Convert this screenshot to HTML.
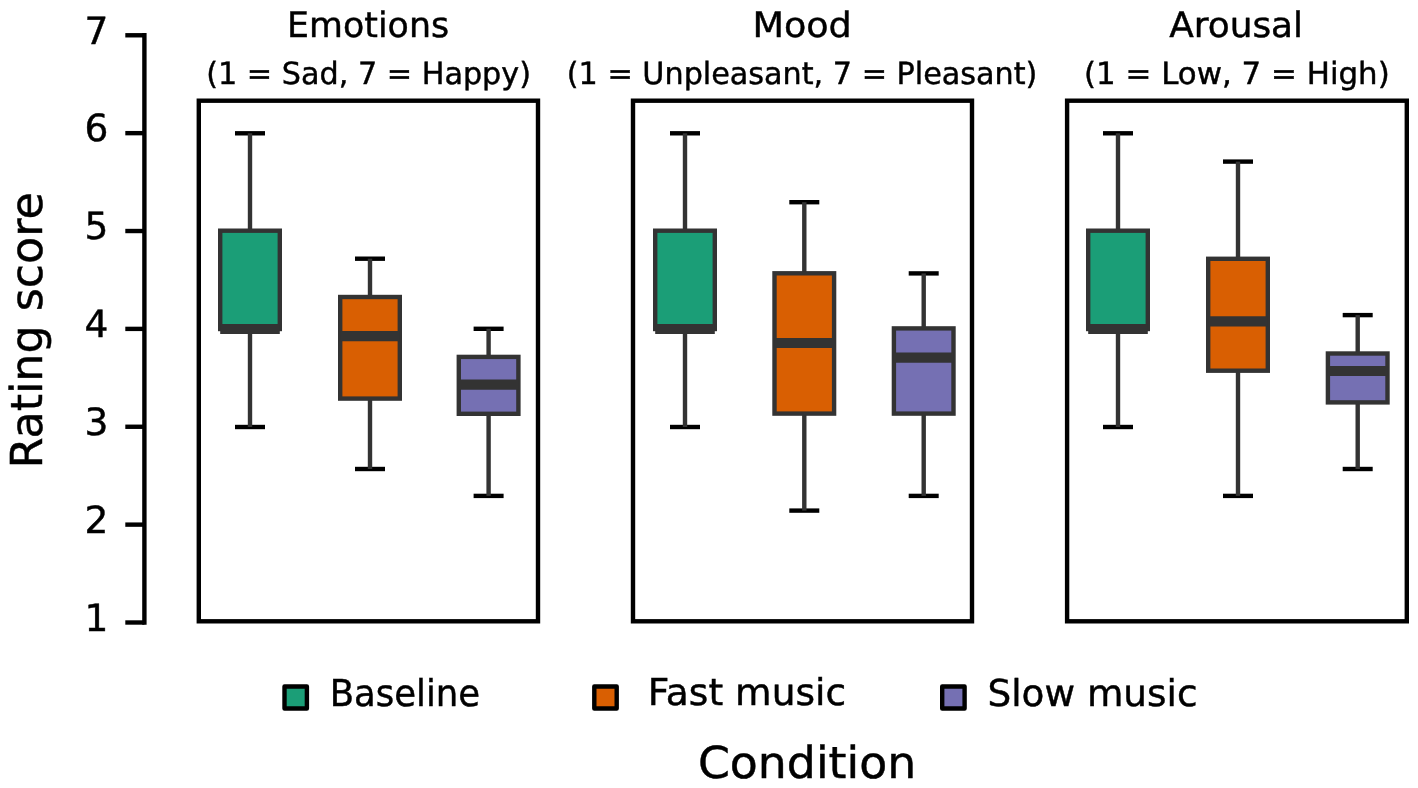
<!DOCTYPE html>
<html lang="en">
<head>
<meta charset="utf-8">
<title>Rating score by condition</title>
<style>
html,body{margin:0;padding:0;background:#fff;}
body{width:1418px;height:788px;overflow:hidden;}
svg{display:block;will-change:transform;}
text{font-family:"DejaVu Sans", "Liberation Sans", sans-serif;fill:#000;stroke:#000;stroke-width:0.45px;text-rendering:geometricPrecision;}
</style>
</head>
<body>
<svg width="1418" height="788" viewBox="0 0 1418 788">
<rect x="0" y="0" width="1418" height="788" fill="#ffffff"/>
<g stroke="#000" stroke-width="4.4" fill="none">
<line x1="144.4" y1="33.08" x2="144.4" y2="624.70"/>
<line x1="125.3" y1="622.50" x2="144.4" y2="622.50"/>
<line x1="125.3" y1="524.63" x2="144.4" y2="524.63"/>
<line x1="125.3" y1="426.76" x2="144.4" y2="426.76"/>
<line x1="125.3" y1="328.89" x2="144.4" y2="328.89"/>
<line x1="125.3" y1="231.02" x2="144.4" y2="231.02"/>
<line x1="125.3" y1="133.15" x2="144.4" y2="133.15"/>
<line x1="125.3" y1="35.28" x2="144.4" y2="35.28"/>
</g>
<text x="108.3" y="630.8" font-size="37.5" text-anchor="end">1</text>
<text x="108.3" y="532.9" font-size="37.5" text-anchor="end">2</text>
<text x="108.3" y="435.1" font-size="37.5" text-anchor="end">3</text>
<text x="108.3" y="337.2" font-size="37.5" text-anchor="end">4</text>
<text x="108.3" y="239.3" font-size="37.5" text-anchor="end">5</text>
<text x="108.3" y="141.4" font-size="37.5" text-anchor="end">6</text>
<text x="108.3" y="43.6" font-size="37.5" text-anchor="end">7</text>
<text transform="translate(42.3 468.3) rotate(-90)" font-size="44" textLength="276" lengthAdjust="spacingAndGlyphs">Rating score</text>
<rect x="198.8" y="100.7" width="339.2" height="520.6" fill="none" stroke="#000" stroke-width="4.4"/>
<text x="287.1" y="37.3" font-size="35" text-anchor="start" textLength="162.0" lengthAdjust="spacingAndGlyphs">Emotions</text>
<text x="206.2" y="83.5" font-size="30.5" text-anchor="start" textLength="324.8" lengthAdjust="spacingAndGlyphs">(1 = Sad, 7 = Happy)</text>
<g stroke="#000" stroke-width="4.4"><line x1="235.00" y1="133.3" x2="265.00" y2="133.3"/><line x1="235.00" y1="427.0" x2="265.00" y2="427.0"/></g>
<g stroke="#333333" stroke-width="4.4"><line x1="250.0" y1="133.3" x2="250.0" y2="230.7"/><line x1="250.0" y1="329.0" x2="250.0" y2="427.0"/></g>
<rect x="220.20" y="230.7" width="59.6" height="98.30" fill="#1b9e77" stroke="#333333" stroke-width="4.4"/>
<line x1="220.20" y1="329.0" x2="279.80" y2="329.0" stroke="#333333" stroke-width="10.2"/>
<g stroke="#000" stroke-width="4.4"><line x1="355.00" y1="258.7" x2="385.00" y2="258.7"/><line x1="355.00" y1="469.0" x2="385.00" y2="469.0"/></g>
<g stroke="#333333" stroke-width="4.4"><line x1="370.0" y1="258.7" x2="370.0" y2="297.0"/><line x1="370.0" y1="398.6" x2="370.0" y2="469.0"/></g>
<rect x="340.20" y="297.0" width="59.6" height="101.60" fill="#d95f02" stroke="#333333" stroke-width="4.4"/>
<line x1="340.20" y1="336.1" x2="399.80" y2="336.1" stroke="#333333" stroke-width="10.2"/>
<g stroke="#000" stroke-width="4.4"><line x1="473.60" y1="328.8" x2="503.60" y2="328.8"/><line x1="473.60" y1="495.9" x2="503.60" y2="495.9"/></g>
<g stroke="#333333" stroke-width="4.4"><line x1="488.6" y1="328.8" x2="488.6" y2="356.9"/><line x1="488.6" y1="413.8" x2="488.6" y2="495.9"/></g>
<rect x="458.80" y="356.9" width="59.6" height="56.90" fill="#7570b3" stroke="#333333" stroke-width="4.4"/>
<line x1="458.80" y1="384.7" x2="518.40" y2="384.7" stroke="#333333" stroke-width="10.2"/>
<rect x="633.0" y="100.7" width="339.0" height="520.6" fill="none" stroke="#000" stroke-width="4.4"/>
<text x="752.4" y="37.3" font-size="35" text-anchor="start" textLength="99.4" lengthAdjust="spacingAndGlyphs">Mood</text>
<text x="566.8" y="83.5" font-size="30.5" text-anchor="start" textLength="470.6" lengthAdjust="spacingAndGlyphs">(1 = Unpleasant, 7 = Pleasant)</text>
<g stroke="#000" stroke-width="4.4"><line x1="670.00" y1="133.3" x2="700.00" y2="133.3"/><line x1="670.00" y1="427.0" x2="700.00" y2="427.0"/></g>
<g stroke="#333333" stroke-width="4.4"><line x1="685.0" y1="133.3" x2="685.0" y2="230.7"/><line x1="685.0" y1="329.0" x2="685.0" y2="427.0"/></g>
<rect x="655.20" y="230.7" width="59.6" height="98.30" fill="#1b9e77" stroke="#333333" stroke-width="4.4"/>
<line x1="655.20" y1="329.0" x2="714.80" y2="329.0" stroke="#333333" stroke-width="10.2"/>
<g stroke="#000" stroke-width="4.4"><line x1="789.30" y1="202.2" x2="819.30" y2="202.2"/><line x1="789.30" y1="510.6" x2="819.30" y2="510.6"/></g>
<g stroke="#333333" stroke-width="4.4"><line x1="804.3" y1="202.2" x2="804.3" y2="273.3"/><line x1="804.3" y1="413.6" x2="804.3" y2="510.6"/></g>
<rect x="774.50" y="273.3" width="59.6" height="140.30" fill="#d95f02" stroke="#333333" stroke-width="4.4"/>
<line x1="774.50" y1="343.0" x2="834.10" y2="343.0" stroke="#333333" stroke-width="10.2"/>
<g stroke="#000" stroke-width="4.4"><line x1="908.70" y1="273.4" x2="938.70" y2="273.4"/><line x1="908.70" y1="495.9" x2="938.70" y2="495.9"/></g>
<g stroke="#333333" stroke-width="4.4"><line x1="923.7" y1="273.4" x2="923.7" y2="328.4"/><line x1="923.7" y1="413.6" x2="923.7" y2="495.9"/></g>
<rect x="893.90" y="328.4" width="59.6" height="85.20" fill="#7570b3" stroke="#333333" stroke-width="4.4"/>
<line x1="893.90" y1="357.7" x2="953.50" y2="357.7" stroke="#333333" stroke-width="10.2"/>
<rect x="1067.1" y="100.7" width="339.7" height="520.6" fill="none" stroke="#000" stroke-width="4.4"/>
<text x="1169.2" y="37.3" font-size="35" text-anchor="start" textLength="133.9" lengthAdjust="spacingAndGlyphs">Arousal</text>
<text x="1084.0" y="83.5" font-size="30.5" text-anchor="start" textLength="305.7" lengthAdjust="spacingAndGlyphs">(1 = Low, 7 = High)</text>
<g stroke="#000" stroke-width="4.4"><line x1="1103.00" y1="133.3" x2="1133.00" y2="133.3"/><line x1="1103.00" y1="427.0" x2="1133.00" y2="427.0"/></g>
<g stroke="#333333" stroke-width="4.4"><line x1="1118.0" y1="133.3" x2="1118.0" y2="230.7"/><line x1="1118.0" y1="329.0" x2="1118.0" y2="427.0"/></g>
<rect x="1088.20" y="230.7" width="59.6" height="98.30" fill="#1b9e77" stroke="#333333" stroke-width="4.4"/>
<line x1="1088.20" y1="329.0" x2="1147.80" y2="329.0" stroke="#333333" stroke-width="10.2"/>
<g stroke="#000" stroke-width="4.4"><line x1="1223.00" y1="161.6" x2="1253.00" y2="161.6"/><line x1="1223.00" y1="495.9" x2="1253.00" y2="495.9"/></g>
<g stroke="#333333" stroke-width="4.4"><line x1="1238.0" y1="161.6" x2="1238.0" y2="258.8"/><line x1="1238.0" y1="370.7" x2="1238.0" y2="495.9"/></g>
<rect x="1208.20" y="258.8" width="59.6" height="111.90" fill="#d95f02" stroke="#333333" stroke-width="4.4"/>
<line x1="1208.20" y1="321.3" x2="1267.80" y2="321.3" stroke="#333333" stroke-width="10.2"/>
<g stroke="#000" stroke-width="4.4"><line x1="1342.70" y1="315.1" x2="1372.70" y2="315.1"/><line x1="1342.70" y1="469.0" x2="1372.70" y2="469.0"/></g>
<g stroke="#333333" stroke-width="4.4"><line x1="1357.7" y1="315.1" x2="1357.7" y2="353.5"/><line x1="1357.7" y1="402.4" x2="1357.7" y2="469.0"/></g>
<rect x="1327.90" y="353.5" width="59.6" height="48.90" fill="#7570b3" stroke="#333333" stroke-width="4.4"/>
<line x1="1327.90" y1="371.0" x2="1387.50" y2="371.0" stroke="#333333" stroke-width="10.2"/>
<rect x="284.5" y="686.5" width="22.4" height="22.0" fill="#1b9e77" stroke="#000" stroke-width="4.4" stroke-linejoin="round"/>
<text x="329.7" y="706.4" font-size="37" text-anchor="start" textLength="150.5" lengthAdjust="spacingAndGlyphs">Baseline</text>
<rect x="594.3" y="686.5" width="22.4" height="22.0" fill="#d95f02" stroke="#000" stroke-width="4.4" stroke-linejoin="round"/>
<text x="647.7" y="705.1" font-size="37" text-anchor="start" textLength="198.4" lengthAdjust="spacingAndGlyphs">Fast music</text>
<rect x="942.2" y="686.5" width="22.4" height="22.0" fill="#7570b3" stroke="#000" stroke-width="4.4" stroke-linejoin="round"/>
<text x="987.4" y="706.1" font-size="37" text-anchor="start" textLength="210.1" lengthAdjust="spacingAndGlyphs">Slow music</text>
<text x="697.9" y="777.7" font-size="44" text-anchor="start" textLength="218.4" lengthAdjust="spacingAndGlyphs">Condition</text>
</svg>
</body>
</html>
